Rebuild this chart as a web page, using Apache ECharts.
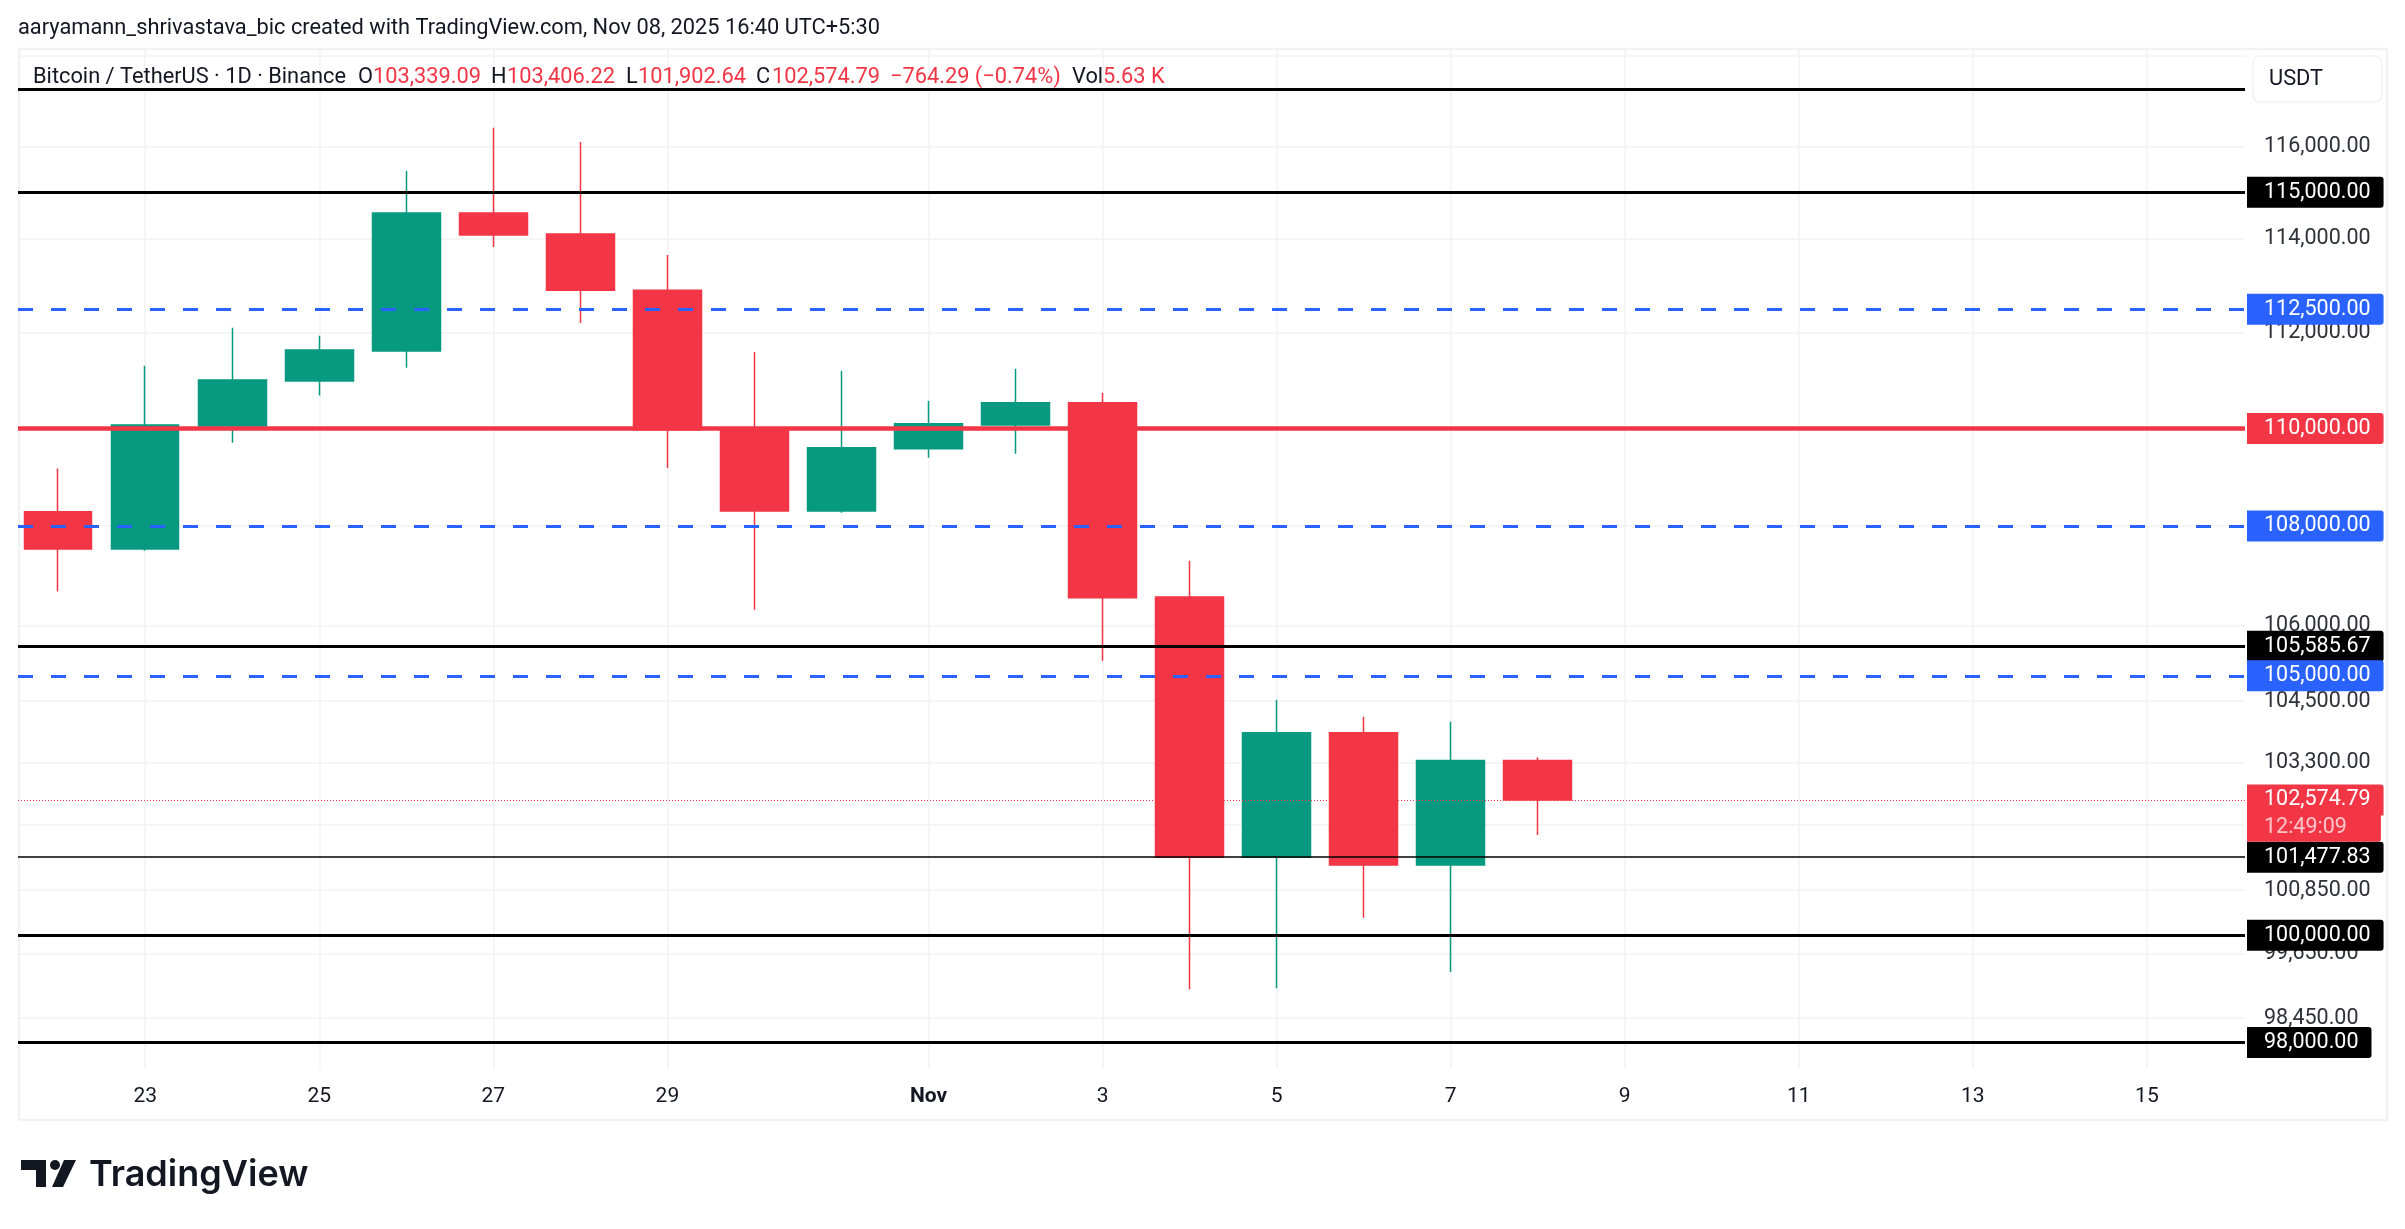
<!DOCTYPE html>
<html>
<head>
<meta charset="utf-8">
<title>BTCUSDT</title>
<script src="https://cdn.jsdelivr.net/npm/echarts@6/dist/echarts.min.js"></script>
<style>
  html, body { margin: 0; padding: 0; background: #fff; }
  #main { width: 2405px; height: 1229px; }
</style>
</head>
<body>
<div id="main"></div>
<script>
// daily candles, Oct 22 -> Nov 8 (x is the day index)
var dayIndex = [0, 1, 2, 3, 4, 5, 6, 7, 8, 9, 10, 11, 12, 13, 14, 15, 16, 17];
var opens  = [108292, 107538, 110055, 110992, 111620, 114555, 114104, 112900, 109974, 108310, 109582, 110076, 110534, 106570, 101477, 103883, 101331, 103339.09];
var closes = [107538, 110076, 111013, 111641, 114555, 114082, 112900, 109974, 108310, 109603, 110098, 110534, 106553, 101477, 103883, 101331, 103339, 102574.79];
var lows   = [106678, 107503, 109706, 110685, 111266, 113825, 112210, 109188, 106313, 108270, 109397, 109479, 105300, 98989, 99008, 100330, 99307, 101902.64];
var highs  = [109176, 111308, 112105, 111938, 115466, 116404, 116095, 113654, 111595, 111202, 110577, 111244, 110742, 107299, 104527, 104196, 104098, 103406.22];

// time axis ticks
var xTickValues = [1, 3, 5, 7, 10, 12, 14, 16, 18, 20, 22, 24];
var xTickLabels = ['23', '25', '27', '29', 'Nov', '3', '5', '7', '9', '11', '13', '15'];

// price axis ticks (tradingview log scale)
var yGridValues  = [118000, 116000, 114000, 112000, 110000, 108000, 106000, 104500, 103300, 102100, 100850, 99650, 98450];
var yLabelValues = [116000, 114000, 112000, 110000, 108000, 106000, 104500, 103300, 102100, 100850, 99650, 98450];

// drawn horizontal levels
var blackLevels = [117250, 115000, 105585.67, 100000, 98000];
var thinBlackLevels = [101477.83];
var blueLevels = [112500, 108000, 105000];
var redLevels = [110000];
var lastPrice = 102574.79;
var countdown = '12:49:09';
var countdownLevel = 102043;
var unlabelledLevels = [117250];

var UP = '#089981', DOWN = '#F23645', BLUE = '#2962FF', BLACK = '#000000', FONT = 'Roboto';
var TEXT = '#131722', PANE = '#F2F2F3';

function money(v) {
    return v.toLocaleString('en-US', { minimumFractionDigits: 2, maximumFractionDigits: 2 });
}

function tag(bg, text) {
    return {
        show: true,
        position: 'end',
        distance: 2,
        formatter: text,
        color: '#fff',
        fontFamily: FONT,
        fontSize: 21.5,
        backgroundColor: bg,
        padding: [2, 13, 7, 17],
        borderRadius: [0, 3, 3, 0]
    };
}

function level(v, color, width, type) {
    var hide = unlabelledLevels.indexOf(v) >= 0;
    return {
        yAxis: v,
        lineStyle: { color: color, width: width, type: type, opacity: 1 },
        label: hide ? { show: false } : tag(color, money(v))
    };
}

var levelData = [];
blackLevels.forEach(function (v) { levelData.push(level(v, BLACK, 3, 'solid')); });
thinBlackLevels.forEach(function (v) { levelData.push(level(v, BLACK, 1.5, 'solid')); });
blueLevels.forEach(function (v) { levelData.push(level(v, BLUE, 3, [15, 18])); });
redLevels.forEach(function (v) { levelData.push(level(v, DOWN, 4.5, 'solid')); });

// last price: dotted line + tag, countdown sits in a second tag right below
var priceLine = level(lastPrice, DOWN, 1, [1, 2]);
priceLine.label.borderRadius = [0, 3, 0, 0];
levelData.push(priceLine);
var countdownLine = level(countdownLevel, 'transparent', 1, 'solid');
countdownLine.label = tag(DOWN, countdown);
countdownLine.label.color = '#FBC4CA';
countdownLine.label.padding = [0, 34, 6, 17];
countdownLine.label.borderRadius = [0, 0, 3, 0];
levelData.push(countdownLine);

var candleData = dayIndex.map(function (d, i) {
    return [d, opens[i], closes[i], lows[i], highs[i]];
});

// legend row pieces [text, x, colour]
var legendTexts = ['Bitcoin / TetherUS · 1D · Binance', 'O', '103,339.09', 'H', '103,406.22', 'L', '101,902.64', 'C', '102,574.79', '−764.29 (−0.74%)', 'Vol', '5.63 K'];
var legendX = [33, 358, 373, 491, 507, 626, 638, 756, 772, 890, 1072, 1103];
var legendIsValue = [false, false, true, false, true, false, true, false, true, true, false, true];

var graphics = [
    { type: 'rect', silent: true, z: 0, shape: { x: 19, y: 49, width: 2368, height: 1071 },
      style: { fill: 'none', stroke: PANE, lineWidth: 2.5 } },
    { type: 'rect', silent: true, z: 10, shape: { x: 2253, y: 56, width: 129, height: 46, r: 7 },
      style: { fill: '#fff', stroke: PANE, lineWidth: 1.5 } },
    { type: 'text', silent: true, z: 11, x: 2269, y: 80,
      style: { text: 'USDT', fill: TEXT, font: '21.8px Roboto', verticalAlign: 'middle' } },
    { type: 'text', silent: true, z: 11, x: 18, y: 29,
      style: { text: 'aaryamann_shrivastava_bic created with TradingView.com, Nov 08, 2025 16:40 UTC+5:30',
               fill: TEXT, font: '21.8px Roboto', verticalAlign: 'middle' } },
    // tradingview logo
    { type: 'polygon', silent: true, z: 11, shape: { points: [[21, 1160], [46, 1160], [46, 1187], [36, 1187], [36, 1170], [21, 1170]] },
      style: { fill: '#131722' } },
    { type: 'circle', silent: true, z: 11, shape: { cx: 55, cy: 1165, r: 5 }, style: { fill: '#131722' } },
    { type: 'polygon', silent: true, z: 11, shape: { points: [[64, 1160], [76, 1160], [63, 1187], [52, 1187]] },
      style: { fill: '#131722' } },
    { type: 'text', silent: true, z: 11, x: 89, y: 1175,
      style: { text: 'TradingView', fill: '#131722', font: '600 36px Inter', verticalAlign: 'middle' } }
];
legendTexts.forEach(function (t, i) {
    graphics.push({
        type: 'text', silent: true, z: 11, x: legendX[i], y: 78,
        style: { text: t, fill: legendIsValue[i] ? DOWN : TEXT, font: '21.8px Roboto', verticalAlign: 'middle' }
    });
});

var myChart = echarts.init(document.getElementById('main'), null, { renderer: 'canvas' });
myChart.setOption({
    animation: false,
    backgroundColor: '#ffffff',
    textStyle: { fontFamily: FONT },
    graphic: graphics,
    grid: { left: 18, right: 160, top: 49, bottom: 160 },
    xAxis: {
        type: 'value',
        min: -0.462,
        max: 25.127,
        axisLine: { show: false },
        axisTick: { show: false, customValues: xTickValues },
        splitLine: { show: true, lineStyle: { color: PANE, width: 1.5 } },
        axisLabel: {
            customValues: xTickValues,
            margin: 17,
            color: TEXT,
            fontSize: 21,
            fontFamily: FONT,
            formatter: function (v) {
                var s = xTickLabels[xTickValues.indexOf(v)];
                return s === 'Nov' ? '{b|Nov}' : s;
            },
            rich: { b: { fontWeight: 'bold', fontSize: 21, color: TEXT, fontFamily: FONT } }
        }
    },
    yAxis: {
        type: 'log',
        logBase: 10,
        position: 'right',
        min: 97513,
        max: 118144,
        axisLine: { show: false },
        axisTick: { show: false, customValues: yGridValues },
        splitLine: { show: true, lineStyle: { color: PANE, width: 1.5 } },
        axisLabel: {
            customValues: yLabelValues,
            margin: 19,
            align: 'left',
            color: '#2E3238',
            fontSize: 21.5,
            fontFamily: FONT,
            padding: [0, 0, 5, 0],
            formatter: function (v) { return money(v); }
        }
    },
    series: [{
        type: 'candlestick',
        barWidth: 68,
        encode: { x: 0, y: [1, 2, 3, 4] },
        itemStyle: {
            color: UP, color0: DOWN,
            borderColor: UP, borderColor0: DOWN,
            borderWidth: 1.5
        },
        data: candleData,
        markLine: {
            silent: true,
            symbol: 'none',
            animation: false,
            data: levelData
        }
    }]
});
</script>
</body>
</html>
